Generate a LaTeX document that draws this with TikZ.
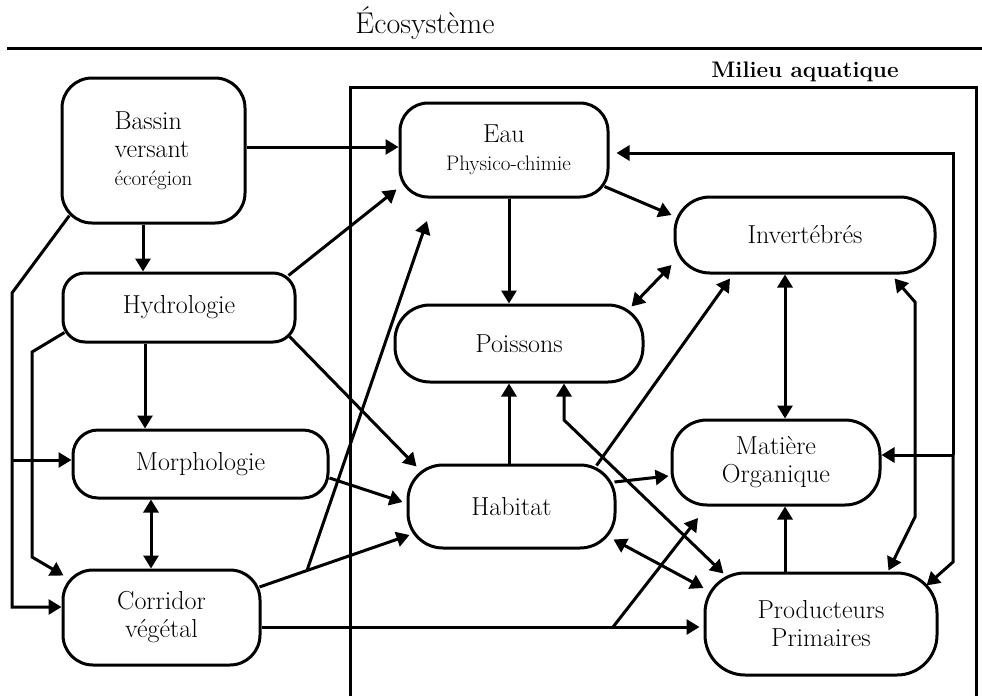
\documentclass[tikz,border=0pt]{standalone}
\usetikzlibrary{arrows.meta,calc}
\newcommand{\txtmain}{\fontsize{26}{28}\selectfont}
\newcommand{\txtsmall}{\fontsize{21}{22}\selectfont}
\newcommand{\txtbass}{\fontsize{21}{22}\selectfont}
\begin{document}
\begin{tikzpicture}[x=1pt,y=-1pt,
  box/.style={draw, line width=3pt, inner sep=0pt, align=center, font=\txtmain},
  conn/.style={line width=3pt, line join=miter},
  arr/.style={conn, -{Triangle[length=13pt,width=15pt]}},
  darr/.style={conn, {Triangle[length=13pt,width=15pt]}-{Triangle[length=13pt,width=15pt]}}]
\useasboundingbox (0,0) rectangle (982,696);
% title and frame
\node[font=\fontsize{30}{32}\selectfont, anchor=base] (titre) at (425,33) {Écosystème};
\draw[line width=3pt] (7,48) -- (982,48);
\node[font=\fontsize{22.5}{26}\selectfont\bfseries, anchor=base] (milieu) at (805,77) {Milieu aquatique};
\draw[line width=3pt] (350,696) -- (350,87) -- (976,87) -- (976,696);
% nodes
\node[box, align=left, minimum width=183pt, minimum height=145pt, rounded corners=30pt] (bassin) at (153.5,150.5) {Bassin\\versant\\{\txtbass écorégion}};
\node[box, minimum width=232pt, minimum height=69pt, rounded corners=22pt] (hydro) at (179,307.5) {Hydrologie};
\node[box, minimum width=255pt, minimum height=68pt, rounded corners=25pt] (morph) at (200.5,464) {Morphologie};
\node[box, minimum width=197pt, minimum height=95pt, rounded corners=30pt] (corr) at (161.5,617.5) {Corridor\\végétal};
\node[box, minimum width=208pt, minimum height=94pt, rounded corners=28pt] (eau) at (504,150) {Eau\\{\txtsmall\hspace*{9pt}Physico-chimie}};
\node[box, minimum width=248pt, minimum height=77pt, rounded corners=35pt] (poiss) at (519,343.5) {Poissons};
\node[box, minimum width=260pt, minimum height=76pt, rounded corners=35pt] (inv) at (805,235) {Invertébrés};
\node[box, minimum width=207pt, minimum height=83pt, rounded corners=35pt] (hab) at (511.5,506.5) {Habitat};
\node[box, minimum width=208pt, minimum height=85pt, rounded corners=35pt] (mat) at (776,462.5) {Matière\\Organique};
\node[box, minimum width=232pt, minimum height=102pt, rounded corners=40pt] (prod) at (821,624) {Producteurs\\Primaires};
% bend coordinates
\coordinate (lb1) at (12,293);
\coordinate (lb2) at (12,607);
\coordinate (lb3) at (12,460);
\coordinate (hb1) at (32,352);
\coordinate (hb2) at (32,557);
\coordinate (cb) at (307,570.5);
\coordinate (ce) at (427,221);
\coordinate (pb) at (613,627);
\coordinate (pe) at (698,518);
\coordinate (pk) at (564,420);
\coordinate (ib1) at (915,517);
\coordinate (ib2) at (915,302);
\coordinate (rj) at (953,455);
\coordinate (rt) at (953,153);
\coordinate (rb) at (953,562);
% connectors
\draw[arr] ($(bassin.east)+(0,-3.5)$) -- ($(eau.west)+(0,-3)$);
\draw[arr] ($(bassin.south)+(-10.5,0)$) -- ($(hydro.north)+(-36,0)$);
\draw[arr] ($(bassin.south west)+(8.8,-8.8)$) -- (lb1) -- (lb2) -- ($(corr.west)+(0,-10.5)$);
\draw[arr] (lb3) -- ($(morph.west)+(0,-4)$);
\draw[arr] ($(hydro.south west)+(3,-11)$) -- (hb1) -- (hb2) -- ($(corr.north west)+(2,7)$);
\draw[arr] ($(hydro.south)+(-34,0)$) -- ($(morph.north)+(-55.5,0)$);
\draw[darr] ($(morph.south)+(-49.5,0)$) -- ($(corr.north)+(-10.5,0)$);
\draw[arr] ($(hydro.north east)+(-8,4)$) -- ($(eau.south west)+(-2,-9)$);
\draw[arr] ($(hydro.south east)+(-7,-7)$) -- ($(hab.north west)+(10,3)$);
\draw[arr] ($(morph.east)+(0,14)$) -- ($(hab.west)+(-4,-4.5)$);
\draw[arr] ($(corr.east)+(-2,-30.5)$) -- (cb) -- ($(hab.west)+(3,28.5)$);
\draw[arr] (cb) -- (ce);
\draw[arr] ($(corr.east)+(0,9.5)$) -- ($(prod.west)+(-4,3)$);
\draw[arr] (pb) -- (pe);
\draw[arr] ($(eau.south)+(5,0)$) -- ($(poiss.north)+(-10,0)$);
\draw[arr] ($(eau.south east)+(-5,-12)$) -- ($(inv.west)+(-2,-20)$);
\draw[darr] ($(poiss.north east)+(-13,3)$) -- ($(inv.west)+(-2,30)$);
\draw[arr] ($(hab.north east)+(-20,2)$) -- ($(inv.south)+(-75,4)$);
\draw[arr] ($(hab.north)+(-2.5,0)$) -- ($(poiss.south)+(-10,0)$);
\draw[darr] ($(poiss.south)+(45,0)$) -- (pk) -- ($(prod.north west)+(20,2)$);
\draw[darr] ($(hab.south east)+(-3,-10)$) -- ($(prod.west)+(0,-36)$);
\draw[arr] ($(hab.east)+(-2,-24.5)$) -- ($(mat.west)+(-2,13.5)$);
\draw[darr] ($(inv.south)+(-20,0)$) -- ($(mat.north)+(9,0)$);
\draw[arr] ($(prod.north)+(-36,0)$) -- ($(mat.south)+(9,0)$);
\draw[darr] ($(prod.north east)+(-50,-1)$) -- (ib1) -- (ib2) -- ($(inv.south east)+(-42,4)$);
\draw[arr] (rj) -- (rt) -- ($(eau.east)+(7,3)$);
\draw[arr] (rj) -- ($(mat.east)+(0,-7.5)$);
\draw[arr] (rj) -- (rb) -- ($(prod.north east)+(-12,14)$);
\end{tikzpicture}
\end{document}
